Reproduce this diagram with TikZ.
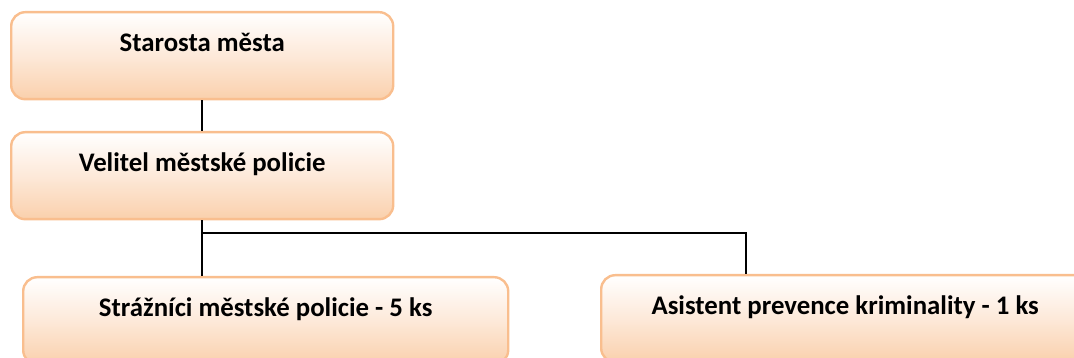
\documentclass[tikz,border=0pt]{standalone}
\usepackage{fontspec}
\setmainfont{Carlito}
\definecolor{boxborder}{HTML}{F9BE8E}
\definecolor{boxbottom}{HTML}{FAD0AC}
\definecolor{boxmid}{HTML}{FDE9D9}
\tikzset{
  orgbox/.style={draw=boxborder, line width=2.4pt, rounded corners=14pt,
    top color=white, bottom color=boxbottom, middle color=boxmid,
    anchor=north west, inner xsep=0pt, inner ysep=0pt,
    text height=39pt, text depth=48pt,
    font=\fontsize{26.8}{30}\selectfont\bfseries, text=black},
  conn/.style={draw=black, line width=1.5pt}
}
\begin{document}
\begin{tikzpicture}[x=1pt,y=-1pt]
\useasboundingbox (0,0) rectangle (1074,358);
\clip (0,0) rectangle (1074,358);
\node[orgbox, minimum width=382pt, minimum height=87pt] (b1) at (10,11) {Starosta města};
\node[orgbox, minimum width=382pt, minimum height=87pt] (b2) at (10,131) {Velitel městské policie};
\node[orgbox, minimum width=485pt, minimum height=87pt] (b3) at (22,276) {Strážníci městské policie - 5 ks};
\node[orgbox, minimum width=488pt, minimum height=87pt] (b4) at (600,274) {Asistent prevence kriminality - 1 ks};
\coordinate (j) at (201,233);
\coordinate (k) at (746,233);
\draw[conn] (b1.south) -- (b2.north);
\draw[conn] (b2.south) -- (b2.south |- b3.north);
\draw[conn] (j) -- (k) -- (k |- b4.north);
\end{tikzpicture}
\end{document}
